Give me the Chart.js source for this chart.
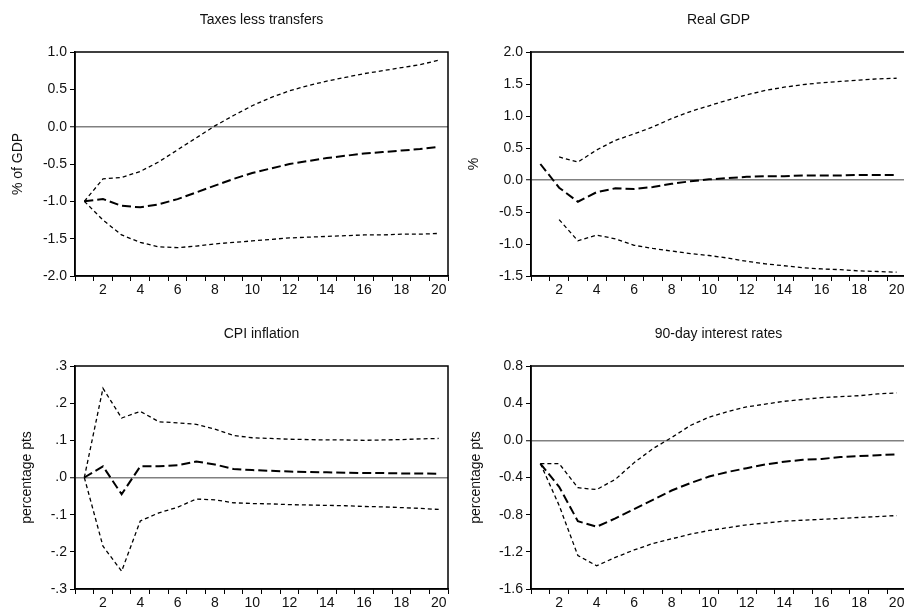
<!DOCTYPE html>
<html><head><meta charset="utf-8">
<script src="https://cdn.jsdelivr.net/npm/chart.js@4"></script>
<style>
html,body{margin:0;padding:0;background:#fff;overflow:hidden;width:904px;height:610px;position:relative}
canvas{position:absolute}
</style></head><body>
<canvas id="c1" width="452" height="305" style="left:0;top:0"></canvas>
<canvas id="c2" width="460" height="305" style="left:452px;top:0"></canvas>
<canvas id="c3" width="452" height="305" style="left:0;top:305px"></canvas>
<canvas id="c4" width="460" height="305" style="left:452px;top:305px"></canvas>
<script>
const periods = ['1','2','3','4','5','6','7','8','9','10','11','12','13','14','15','16','17','18','19','20'];

const panelTitles = ['Taxes less transfers', 'Real GDP', 'CPI inflation', '90-day interest rates'];
const axisTitles = ['% of GDP', '%', 'percentage pts', 'percentage pts'];

const taxMid = [-1.00,-0.97,-1.06,-1.08,-1.04,-0.97,-0.88,-0.79,-0.70,-0.62,-0.56,-0.50,-0.46,-0.42,-0.39,-0.36,-0.34,-0.32,-0.30,-0.27];
const taxUp  = [-1.00,-0.70,-0.68,-0.60,-0.47,-0.31,-0.15,0.01,0.15,0.28,0.39,0.48,0.55,0.61,0.66,0.71,0.75,0.79,0.83,0.89];
const taxLo  = [-1.00,-1.25,-1.45,-1.55,-1.61,-1.62,-1.60,-1.57,-1.55,-1.53,-1.51,-1.49,-1.48,-1.47,-1.46,-1.45,-1.45,-1.44,-1.44,-1.43];

const gdpMid = [0.25,-0.12,-0.34,-0.19,-0.13,-0.14,-0.11,-0.06,-0.02,0.01,0.03,0.05,0.06,0.06,0.07,0.07,0.07,0.08,0.08,0.08];
const gdpUp  = [null,0.36,0.28,0.47,0.62,0.72,0.83,0.96,1.07,1.16,1.25,1.33,1.40,1.45,1.49,1.52,1.54,1.56,1.58,1.59];
const gdpLo  = [null,-0.62,-0.95,-0.86,-0.92,-1.02,-1.07,-1.11,-1.15,-1.18,-1.22,-1.27,-1.31,-1.34,-1.37,-1.39,-1.40,-1.42,-1.43,-1.44];

const cpiMid = [0.000,0.030,-0.045,0.030,0.030,0.033,0.043,0.035,0.023,0.020,0.018,0.016,0.015,0.014,0.013,0.012,0.012,0.011,0.011,0.010];
const cpiUp  = [0.000,0.240,0.160,0.178,0.150,0.147,0.143,0.130,0.113,0.107,0.105,0.103,0.102,0.101,0.101,0.100,0.101,0.102,0.104,0.105];
const cpiLo  = [0.000,-0.185,-0.252,-0.117,-0.095,-0.080,-0.058,-0.060,-0.068,-0.070,-0.071,-0.073,-0.074,-0.075,-0.076,-0.078,-0.079,-0.081,-0.083,-0.086];

const rateMid = [-0.25,-0.50,-0.87,-0.93,-0.84,-0.74,-0.64,-0.54,-0.46,-0.39,-0.34,-0.30,-0.26,-0.23,-0.21,-0.20,-0.18,-0.17,-0.16,-0.15];
const rateUp  = [-0.25,-0.25,-0.51,-0.53,-0.42,-0.24,-0.09,0.03,0.16,0.25,0.31,0.36,0.39,0.42,0.44,0.46,0.47,0.48,0.50,0.51];
const rateLo  = [-0.25,-0.70,-1.24,-1.35,-1.26,-1.18,-1.11,-1.06,-1.01,-0.97,-0.94,-0.91,-0.89,-0.87,-0.86,-0.85,-0.84,-0.83,-0.82,-0.81];

const FONT = "'Liberation Sans', Arial, sans-serif";

const framePlugin = {
  id: 'frame',
  afterDraw(chart) {
    const {ctx, chartArea: a} = chart;
    ctx.save();
    ctx.strokeStyle = '#000';
    ctx.lineWidth = 1.5;
    ctx.strokeRect(a.left, a.top, a.right - a.left, a.bottom - a.top);
    ctx.restore();
  }
};

function fmtStd(v) { return (Math.abs(v) < 1e-9 ? 0 : v).toFixed(1); }
function fmtCpi(v) {
  if (Math.abs(v) < 1e-9) return '.0';
  return v.toFixed(1).replace('0.', '.');
}

function makePanel(id, title, yTitle, mid, up, lo, yMin, yMax, yStep, fmt, g) {
  new Chart(document.getElementById(id), {
    type: 'line',
    data: {
      labels: periods,
      datasets: [
        {data: up, borderColor: '#000', borderWidth: 1.3, borderDash: [4, 3], pointRadius: 0, tension: 0, fill: false},
        {data: lo, borderColor: '#000', borderWidth: 1.3, borderDash: [4, 3], pointRadius: 0, tension: 0, fill: false},
        {data: mid, borderColor: '#000', borderWidth: 2, borderDash: [9, 4], pointRadius: 0, tension: 0, fill: false}
      ]
    },
    options: {
      responsive: false,
      animation: false,
      layout: {padding: {left: 0, right: g.padRight, top: 0, bottom: 0}},
      plugins: {
        legend: {display: false},
        tooltip: {enabled: false},
        title: {
          display: true, text: title, fullSize: false, color: '#111',
          font: {family: FONT, size: 14, weight: 'normal'},
          padding: {top: g.tTop, bottom: g.tBottom}
        }
      },
      scales: {
        x: {
          type: 'category', offset: true,
          afterFit(s) { s.height = g.xH; },
          border: {display: true, color: '#000', width: 1.5},
          grid: {offset: true, drawOnChartArea: false, drawTicks: true, tickLength: 5, color: '#000', lineWidth: 1},
          ticks: {
            autoSkip: false, maxRotation: 0, minRotation: 0, padding: 1, color: '#111',
            font: {family: FONT, size: 14},
            callback(v, i) { return (i + 1) % 2 === 0 ? periods[i] : ''; }
          }
        },
        y: {
          min: yMin, max: yMax,
          afterFit(s) { s.width = g.yW; },
          border: {display: true, color: '#000', width: 1.5},
          grid: {
            drawOnChartArea: true, drawTicks: true, tickLength: 5,
            color: (c) => (c.tick && Math.abs(c.tick.value) < 1e-9) ? '#808080' : 'rgba(0,0,0,0)',
            lineWidth: (c) => (c.tick && Math.abs(c.tick.value) < 1e-9) ? 1.5 : 1,
            tickColor: '#000', tickWidth: 1
          },
          ticks: {
            stepSize: yStep, padding: 3, color: '#111',
            font: {family: FONT, size: 14},
            callback: (v) => fmt(v)
          },
          title: {
            display: true, text: yTitle, color: '#111',
            font: {family: FONT, size: 14},
            padding: {top: g.yTitlePad, bottom: 0}
          }
        }
      }
    },
    plugins: [framePlugin]
  });
}

const topGeom = {tTop: 12.1, tBottom: 23.1, xH: 29};
const botGeom = {tTop: 20.6, tBottom: 23.6, xH: 21};

makePanel('c1', panelTitles[0], axisTitles[0], taxMid, taxUp, taxLo, -2.0, 1.0, 0.5, fmtStd,
  Object.assign({yW: 75, padRight: 4, yTitlePad: 9.6}, topGeom));
makePanel('c2', panelTitles[1], axisTitles[1], gdpMid, gdpUp, gdpLo, -1.5, 2.0, 0.5, fmtStd,
  Object.assign({yW: 79, padRight: 6, yTitlePad: 13.3}, topGeom));
makePanel('c3', panelTitles[2], axisTitles[2], cpiMid, cpiUp, cpiLo, -0.3, 0.3, 0.1, fmtCpi,
  Object.assign({yW: 75, padRight: 4, yTitlePad: 18.6}, botGeom));
makePanel('c4', panelTitles[3], axisTitles[3], rateMid, rateUp, rateLo, -1.6, 0.8, 0.4, fmtStd,
  Object.assign({yW: 79, padRight: 6, yTitlePad: 16.1}, botGeom));
</script>
</body></html>
